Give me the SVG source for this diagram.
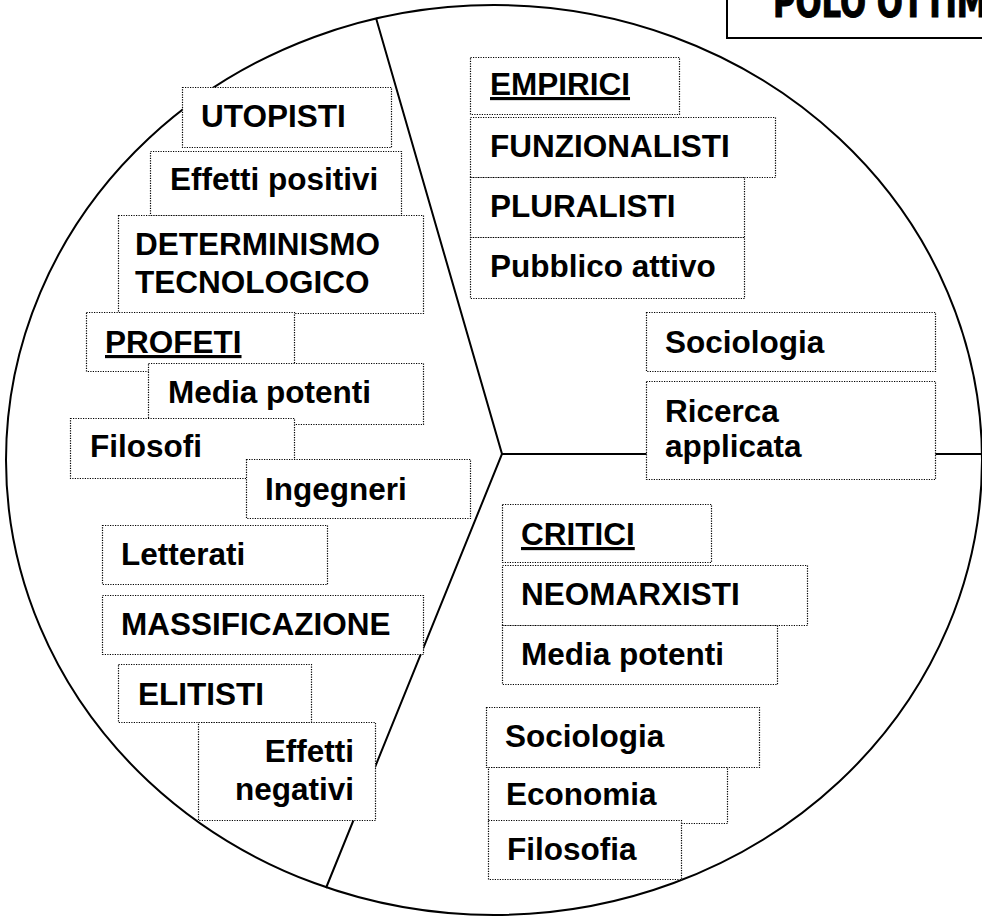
<svg xmlns="http://www.w3.org/2000/svg" width="982" height="918" viewBox="0 0 982 918">
  <style>
    .box { fill: #ffffff; stroke: #000000; stroke-width: 1.2; stroke-dasharray: 1.2 1.3; }
    .lbl { font-family: "Liberation Sans", Arial, sans-serif; font-weight: bold; font-size: 31.5px; fill: #000000; }
    .ul { text-decoration: underline; }
    .end { text-anchor: end; }
    .edge { fill: none; stroke: #000000; stroke-width: 2; }
    .title { font-family: "DejaVu Sans Condensed", "Liberation Sans Narrow", sans-serif; font-weight: bold; font-size: 42px; fill: #000000; stroke: #000000; stroke-width: 1; }
  </style>

  <rect x="0" y="0" width="982" height="918" fill="#ffffff"/>

  <!-- outer disc -->
  <ellipse id="disc" class="edge" cx="494" cy="460" rx="488" ry="455"/>

  <!-- dividers -->
  <g id="connectors">
    <polyline class="edge" points="376,18 502,454 326,888"/>
    <line class="edge" x1="502" y1="454" x2="982" y2="454"/>
  </g>

  <!-- left sector -->
  <g id="utopisti"><rect class="box" x="182.5" y="87.5" width="209" height="60"/><text class="lbl" x="201" y="127">UTOPISTI</text></g>
  <g id="effetti-positivi"><rect class="box" x="150.5" y="151.5" width="251" height="64"/><text class="lbl" x="170" y="190">Effetti positivi</text></g>
  <g id="determinismo"><rect class="box" x="118.5" y="215.5" width="305" height="98"/><text class="lbl" x="135" y="255">DETERMINISMO</text><text class="lbl" x="135" y="293">TECNOLOGICO</text></g>
  <g id="profeti"><rect class="box" x="86.5" y="312.5" width="208" height="59"/><text class="lbl ul" x="105" y="353">PROFETI</text></g>
  <g id="media-potenti-sx"><rect class="box" x="148.5" y="363.5" width="275" height="61"/><text class="lbl" x="168" y="403">Media potenti</text></g>
  <g id="filosofi"><rect class="box" x="70.5" y="418.5" width="224" height="60"/><text class="lbl" x="90" y="457">Filosofi</text></g>
  <g id="ingegneri"><rect class="box" x="246.5" y="459.5" width="224" height="59"/><text class="lbl" x="265" y="500">Ingegneri</text></g>
  <g id="letterati"><rect class="box" x="102.5" y="525.5" width="225" height="59"/><text class="lbl" x="121" y="565">Letterati</text></g>
  <g id="massificazione"><rect class="box" x="102.5" y="595.5" width="321" height="59"/><text class="lbl" x="121" y="635">MASSIFICAZIONE</text></g>
  <g id="elitisti"><rect class="box" x="118.5" y="664.5" width="193" height="58"/><text class="lbl" x="138" y="705">ELITISTI</text></g>
  <g id="effetti-negativi"><rect class="box" x="198.5" y="722.5" width="177" height="98"/><text class="lbl end" x="354" y="762">Effetti</text><text class="lbl end" x="354" y="800">negativi</text></g>

  <!-- upper right sector -->
  <g id="empirici"><rect class="box" x="470.5" y="57.5" width="209" height="57"/><text class="lbl ul" x="490" y="95">EMPIRICI</text></g>
  <g id="funzionalisti"><rect class="box" x="470.5" y="117.5" width="305" height="60"/><text class="lbl" x="490" y="157">FUNZIONALISTI</text></g>
  <g id="pluralisti"><rect class="box" x="470.5" y="177.5" width="274" height="60"/><text class="lbl" x="490" y="217">PLURALISTI</text></g>
  <g id="pubblico-attivo"><rect class="box" x="470.5" y="237.5" width="274" height="61"/><text class="lbl" x="490" y="277">Pubblico attivo</text></g>
  <g id="sociologia-dx"><rect class="box" x="646.5" y="312.5" width="289" height="59"/><text class="lbl" x="665" y="353">Sociologia</text></g>
  <g id="ricerca-applicata"><rect class="box" x="646.5" y="381.5" width="289" height="98"/><text class="lbl" x="665" y="422">Ricerca</text><text class="lbl" x="665" y="457">applicata</text></g>

  <!-- lower right sector -->
  <g id="critici"><rect class="box" x="502.5" y="504.5" width="209" height="58"/><text class="lbl ul" x="521" y="545">CRITICI</text></g>
  <g id="neomarxisti"><rect class="box" x="502.5" y="565.5" width="305" height="60"/><text class="lbl" x="521" y="605">NEOMARXISTI</text></g>
  <g id="media-potenti-dx"><rect class="box" x="502.5" y="625.5" width="275" height="59"/><text class="lbl" x="521" y="665">Media potenti</text></g>
  <g id="sociologia-basso"><rect class="box" x="486.5" y="707.5" width="273" height="60"/><text class="lbl" x="505" y="747">Sociologia</text></g>
  <g id="economia"><rect class="box" x="488.5" y="767.5" width="239" height="56"/><text class="lbl" x="506" y="805">Economia</text></g>
  <g id="filosofia"><rect class="box" x="488.5" y="820.5" width="193" height="59"/><text class="lbl" x="507" y="860">Filosofia</text></g>

  <!-- heading -->
  <g id="titolo">
    <rect x="727" y="-10" width="280" height="48" fill="#ffffff" stroke="#000000" stroke-width="2"/>
    <text class="title" x="773" y="17" textLength="290" lengthAdjust="spacingAndGlyphs">POLO OTTIMISTA</text>
  </g>
</svg>
